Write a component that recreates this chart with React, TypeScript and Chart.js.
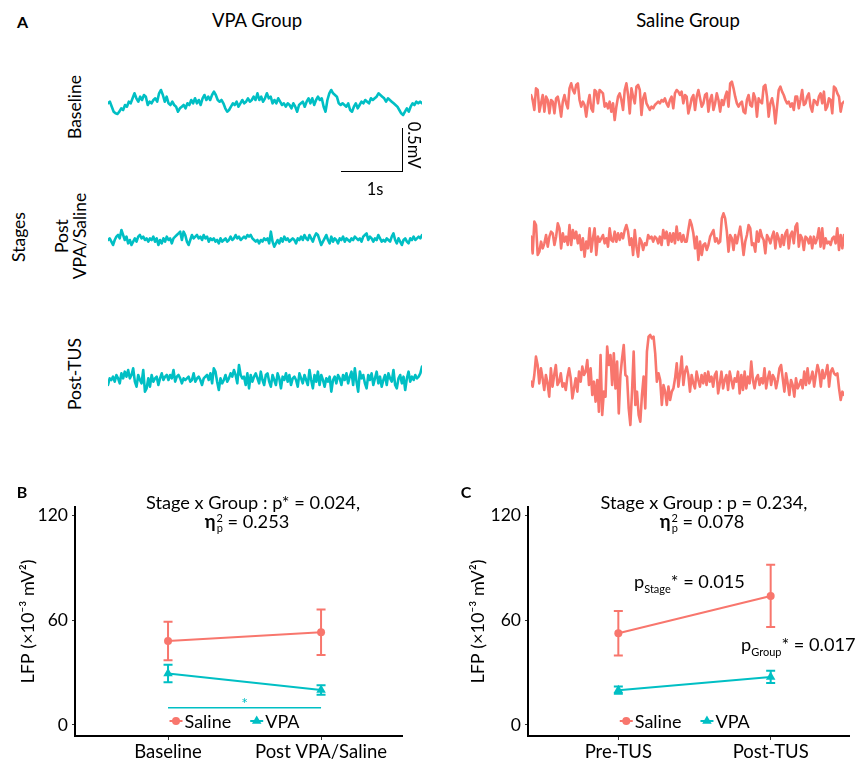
import React, { useEffect, useRef } from "react";
import { Chart, registerables } from "chart.js";

Chart.register(...registerables);

const FONT = "Lato, 'Open Sans', sans-serif";
const SALMON = "#F8766D";
const CYAN = "#00BFC4";

// ---------- Panel A: LFP traces (µV, relative to each trace's baseline) ----------
const VPA_BASELINE = [-16, 4, -56, -116, -136, -144, -116, -76, -96, -36, -56, 4, -16, 44, 104, 44, 4, 64, 24, 84, 64, -36, 4, -16, 24, 44, 4, 104, 144, 84, 4, 64, -16, -36, 4, -36, -56, -116, -76, -56, -36, -76, -16, -36, 24, -16, 44, -16, 24, -36, 44, 84, 24, 64, 24, 84, 124, 84, 24, 4, 24, -16, -76, -116, -96, -56, -16, -36, 4, -56, -16, 24, -16, 4, 44, 4, 24, 64, 24, 104, 24, 64, 4, 44, 104, 44, 64, -16, 24, -16, 44, 4, -36, -16, -56, -16, -36, -76, -16, -56, -116, -36, -16, 4, -56, 4, 44, -16, 44, -36, 24, 64, 24, 44, -56, -116, 24, 104, 144, 104, 84, 64, -16, -36, -16, -36, -56, -16, -96, -116, -56, -16, -76, -36, 4, -16, 24, 4, -16, 44, 24, 44, 64, 104, 84, 64, 44, 4, 44, 24, 4, -16, -36, -56, -96, -136, -156, -116, -76, -116, -56, -16, -36, 4, -16, 4, -16];

const VPA_POST = [-24, -4, -44, -84, -24, 16, 36, -4, 96, 36, -24, 16, -64, -24, -84, -44, -4, -44, 16, 36, -4, 16, -24, -4, -44, -4, -24, 16, -44, -4, -84, -24, -64, -4, -44, 16, -24, -4, -64, -4, 16, 36, 56, 76, -24, 76, 36, -44, -84, -24, 36, -4, 16, 36, -4, 16, -24, 36, -4, 16, -44, -4, -24, -4, -44, -24, -64, -4, -44, -24, -4, -44, -24, 16, -24, -4, 36, -4, 16, -24, -4, 16, -4, 36, 16, 36, -4, -24, -44, -24, -64, -24, -44, -4, -24, -4, -64, 76, -44, -104, -64, -24, -64, -4, -44, 16, -24, -4, -44, -24, -4, -24, -64, -4, -24, 16, -24, 36, -4, -24, 36, -4, -44, 16, 56, 36, -24, -84, -44, -4, 36, -24, -64, 16, -44, -4, -24, -64, -4, -24, 16, -44, -4, -24, -44, -4, -24, 16, -4, -24, -4, -44, 16, 36, 56, -24, 16, -4, -44, -4, -24, 36, -4, -44, -24, -44, -4, -24, -44, 16, 56, -24, -64, -4, -44, -84, -24, -4, -44, -64, -4, -24, 16, -24, -4, 16, -4, 36];

const VPA_POST_TUS = [-84, -4, -24, 16, -44, 36, -4, -64, 56, -4, 76, 16, 96, -4, 36, 116, -44, -104, 36, -24, -64, 96, -164, -124, -4, -104, 36, -44, -4, 16, -84, -4, 56, -24, 16, 36, -24, 36, -4, 96, -44, 16, 36, -4, -64, -4, -24, -4, 16, -44, -24, 56, -44, -4, 16, -24, -84, -4, 16, 36, -24, 56, -64, 116, 76, -44, -144, -4, -64, -24, 36, -44, -4, 56, 16, 96, 36, -64, 156, 36, -4, 16, -84, 56, -124, 36, -44, 16, 56, -4, -64, 76, -24, -84, 36, 56, -44, -104, 36, -24, -84, 56, -4, -124, 16, -24, 56, -44, 36, -84, -4, 16, -24, -104, 56, -4, -64, 36, -24, -84, 96, -24, -124, 36, -44, 76, -84, 36, -24, -104, -4, -44, 16, -164, -24, 16, -64, 36, -4, -84, 36, -24, 56, -64, 16, 76, -84, 116, -44, -164, 76, -4, 36, -64, -124, 36, -24, 56, -84, -4, 76, -64, 16, -104, -24, 36, -84, 56, -4, -44, 96, -84, -124, -4, 36, -64, 16, -144, -4, 76, -44, 16, -24, 36, -4, 16, 56, 136];

const SALINE_BASELINE = [60, 0, -120, 140, 120, -140, -40, 60, -140, 40, 0, -160, 0, -20, -160, 20, 40, -60, -200, -20, 60, -40, -100, 140, 200, 120, 80, 180, 200, 0, -80, -20, -60, -200, -40, 60, -100, -140, 120, 100, -40, 120, 100, 80, -80, -40, -100, -20, -140, -40, -240, -80, 40, 80, 0, -120, 120, 200, 60, -160, 140, 40, -40, 160, 180, 120, -180, 20, 80, -40, -80, -120, -80, -100, -60, -40, -20, -40, 0, -20, 20, -40, -80, 0, 40, -100, 80, 120, 100, 60, 100, -40, 60, 40, -160, -80, 20, 60, -120, 40, 120, 20, -80, -40, 60, 80, -140, 0, 60, -120, -40, 80, 0, -140, 0, -60, 40, 100, -80, 200, 220, 140, 40, -40, -80, -40, -20, -140, -160, 0, 60, -60, -80, 80, 20, -200, 20, -20, -40, 160, 180, 40, -200, -40, 20, -80, -280, -80, 120, 160, 100, 60, 0, -40, -20, -80, -40, -120, 40, 40, -100, 0, 120, -60, -40, 40, 80, -80, -140, 0, -20, -60, 40, 80, -40, 100, -120, -80, 20, 0, -160, 160, 140, 80, 40, -140, -40, -20];

const SALINE_POST = [16, -184, 196, 156, -204, -164, -44, -124, -64, 36, -104, 16, 76, 56, -84, 16, 176, 116, -124, 56, -44, 16, -84, 156, -84, 96, -4, 76, -64, 36, -144, -4, -224, -44, -124, 116, -164, -4, 116, -204, 16, -44, -4, 36, -64, -4, -104, 116, -24, -44, 76, -44, 56, -24, 56, -4, 96, 156, 76, -84, -4, -204, 96, -104, -224, -4, -44, -144, -64, -84, 36, -4, 16, -44, 16, -4, -64, 16, -84, 96, -4, 76, -84, 56, -44, 56, -64, 136, -24, 56, -44, 36, -44, -44, 96, 216, 156, 56, -124, 16, -264, -44, -204, -84, -64, -144, -84, 16, 56, 96, -44, -4, -64, -44, 236, 296, 236, 76, -164, 36, -4, -144, 36, -64, 36, 136, -24, -204, -44, 36, 156, 116, -84, -64, -164, 76, -44, 96, 16, -24, -184, 36, -4, -64, 16, 76, -124, 56, -4, -104, 36, -84, 56, 96, -124, 36, 76, -64, 136, 176, -104, 36, -4, -144, 16, -4, -64, 16, -124, 16, -64, -4, 116, -104, 116, -124, -4, -64, -44, -84, -4, 16, -64, 116, -144, 36, -124, 36];

const SALINE_POST_TUS = [-20, -80, 60, 280, 180, -40, 140, 20, -120, 60, -40, -200, 140, -80, 60, 180, -60, -20, 80, -80, -40, -120, 40, 140, 20, -220, -100, 20, -140, 100, -20, 160, 60, 100, 240, -60, 140, -180, -20, -260, 0, -380, 300, -420, -140, -200, 400, 180, 300, -60, 320, -100, 220, -400, 60, 260, 420, 60, 40, -340, -540, -140, 340, -300, -140, -420, -500, -180, 40, -340, 340, 520, 540, 500, 520, 320, -20, 80, 0, -300, -60, -140, -300, -80, -240, -140, -100, 20, 200, -80, 80, 280, -60, 100, 160, 60, -140, 60, -40, -100, 100, 0, -80, 60, -40, 80, -60, 100, -20, 40, -80, 60, 100, -160, -40, 100, -100, 0, 60, -120, 100, 0, -100, 20, -20, 100, -160, 60, -120, 100, -100, 40, -40, 220, 0, -100, 20, 60, -60, 20, -40, 140, -100, 20, 100, -60, 60, 20, -100, 0, 140, 180, 20, -140, 80, -40, -180, 0, -60, -200, 20, -100, -60, 0, -100, 100, -60, 140, -40, 20, 100, -80, 60, 180, 100, -80, 120, 20, 80, 180, -80, 100, 140, 80, 60, 80, -100, -240, -140, -180];

const TRACE_RANGE_UV = 720; // half-range of each trace's vertical axis

// ---------- Panel B & C: LFP power (×10^-3 mV^2), mean ± SE ----------
const GROUPS = ["Saline", "VPA"];
const STAGES_B = ["Baseline", "Post VPA/Saline"];
const SALINE_B = [48, 53];
const SALINE_B_SE = [11, 13];
const VPA_B = [29.4, 20];
const VPA_B_SE = [5, 2.7];

const STAGES_C = ["Pre-TUS", "Post-TUS"];
const SALINE_C = [52.5, 73.8];
const SALINE_C_SE = [12.7, 17.8];
const VPA_C = [19.9, 27.5];
const VPA_C_SE = [2.1, 3.5];

const Y_TICKS = [0, 60, 120];
const SIG_B = { from: 0, to: 1, y: 9.8, mark: "*" };

function Trace({ data, color, left, top, width, height }: any) {
  const ref = useRef<HTMLCanvasElement>(null);
  useEffect(() => {
    const chart = new Chart(ref.current as HTMLCanvasElement, {
      type: "line",
      data: {
        labels: data.map((_: number, i: number) => i),
        datasets: [
          {
            data,
            borderColor: color,
            borderWidth: 2.6,
            pointRadius: 0,
            tension: 0,
            fill: false,
            borderJoinStyle: "round",
            borderCapStyle: "round",
            clip: 4,
          } as any,
        ],
      },
      options: {
        responsive: false,
        animation: false,
        events: [],
        layout: { padding: 0 },
        plugins: { legend: { display: false }, tooltip: { enabled: false } },
        scales: {
          x: { type: "linear", display: false, min: 0, max: data.length - 1 },
          y: { type: "linear", display: false, min: -TRACE_RANGE_UV, max: TRACE_RANGE_UV },
        },
      },
    });
    return () => chart.destroy();
  }, []);
  return (
    <canvas
      ref={ref}
      width={width}
      height={height}
      style={{ position: "absolute", left, top, width, height }}
    />
  );
}

function StatsChart(props: any) {
  const { left, top, width, height, padRight, axisWidth, stages, saline, salineSe, vpa, vpaSe, xMin, xMax, sig } = props;
  const ref = useRef<HTMLCanvasElement>(null);
  useEffect(() => {
    const seSets = [salineSe, vpaSe];
    const errorBars = {
      id: "errorBars",
      afterDatasetsDraw(chart: any) {
        const { ctx } = chart;
        const xs = chart.scales.x;
        const ys = chart.scales.y;
        chart.data.datasets.forEach((ds: any, di: number) => {
          const se = seSets[di];
          ctx.save();
          ctx.strokeStyle = ds.borderColor;
          ctx.lineWidth = 2;
          ds.data.forEach((p: any, i: number) => {
            const px = xs.getPixelForValue(p.x);
            const t = ys.getPixelForValue(p.y + se[i]);
            const b = ys.getPixelForValue(p.y - se[i]);
            ctx.beginPath();
            ctx.moveTo(px, t);
            ctx.lineTo(px, b);
            ctx.moveTo(px - 4.5, t);
            ctx.lineTo(px + 4.5, t);
            ctx.moveTo(px - 4.5, b);
            ctx.lineTo(px + 4.5, b);
            ctx.stroke();
          });
          ctx.restore();
        });
        if (sig) {
          ctx.save();
          const y = ys.getPixelForValue(sig.y);
          ctx.strokeStyle = CYAN;
          ctx.lineWidth = 1.5;
          ctx.beginPath();
          ctx.moveTo(xs.getPixelForValue(sig.from), y);
          ctx.lineTo(xs.getPixelForValue(sig.to), y);
          ctx.stroke();
          ctx.fillStyle = CYAN;
          ctx.font = `16px ${FONT}`;
          ctx.textAlign = "center";
          ctx.textBaseline = "middle";
          ctx.fillText(sig.mark, xs.getPixelForValue((sig.from + sig.to) / 2), y - 4);
          ctx.restore();
        }
      },
    };
    const legendInside = {
      id: "legendInside",
      afterDraw(chart: any) {
        const { ctx, chartArea } = chart;
        ctx.save();
        ctx.font = `18px ${FONT}`;
        ctx.textBaseline = "middle";
        ctx.textAlign = "left";
        const keyW = 13;
        const gap = 2;
        const spacing = 19;
        const w1 = ctx.measureText(GROUPS[0]).width;
        const w2 = ctx.measureText(GROUPS[1]).width;
        const total = keyW + gap + w1 + spacing + keyW + gap + w2;
        const cx = (chartArea.left + chartArea.right) / 2 - 4;
        const cy = chartArea.bottom - 15;
        let x = cx - total / 2;
        // Saline key
        ctx.strokeStyle = SALMON;
        ctx.fillStyle = SALMON;
        ctx.lineWidth = 2;
        ctx.beginPath();
        ctx.moveTo(x, cy);
        ctx.lineTo(x + keyW, cy);
        ctx.stroke();
        ctx.beginPath();
        ctx.arc(x + keyW / 2, cy, 4, 0, Math.PI * 2);
        ctx.fill();
        x += keyW + gap;
        ctx.fillStyle = "#000";
        ctx.fillText(GROUPS[0], x, cy + 1);
        x += w1 + spacing;
        // VPA key
        ctx.strokeStyle = CYAN;
        ctx.fillStyle = CYAN;
        ctx.beginPath();
        ctx.moveTo(x, cy);
        ctx.lineTo(x + keyW, cy);
        ctx.stroke();
        const r = 5.5;
        const kx = x + keyW / 2;
        ctx.beginPath();
        ctx.moveTo(kx, cy - r);
        ctx.lineTo(kx + r * 0.866, cy + r * 0.5);
        ctx.lineTo(kx - r * 0.866, cy + r * 0.5);
        ctx.closePath();
        ctx.fill();
        x += keyW + gap;
        ctx.fillStyle = "#000";
        ctx.fillText(GROUPS[1], x, cy + 1);
        ctx.restore();
      },
    };
    const chart = new Chart(ref.current as HTMLCanvasElement, {
      type: "line",
      data: {
        datasets: [
          {
            label: GROUPS[0],
            data: saline.map((v: number, i: number) => ({ x: i, y: v })),
            borderColor: SALMON,
            backgroundColor: SALMON,
            borderWidth: 2,
            pointStyle: "circle",
            pointRadius: 4,
            pointBorderWidth: 0,
          },
          {
            label: GROUPS[1],
            data: vpa.map((v: number, i: number) => ({ x: i, y: v })),
            borderColor: CYAN,
            backgroundColor: CYAN,
            borderWidth: 2,
            pointStyle: "triangle",
            pointRadius: 5.5,
            pointBorderWidth: 0,
          },
        ],
      },
      options: {
        responsive: false,
        animation: false,
        events: [],
        layout: { padding: { top: 27, right: padRight, left: 0, bottom: 0 } },
        plugins: { legend: { display: false }, tooltip: { enabled: false } },
        scales: {
          x: {
            type: "linear",
            min: xMin,
            max: xMax,
            afterBuildTicks: (s: any) => {
              s.ticks = stages.map((_: string, i: number) => ({ value: i }));
            },
            afterFit: (s: any) => {
              s.height = 25;
            },
            ticks: {
              callback: (_v: any, i: number) => stages[i],
              font: { family: FONT, size: 18.5 },
              color: "#000",
              padding: 1,
              maxRotation: 0,
              autoSkip: false,
            },
            grid: { display: true, drawOnChartArea: false, drawTicks: true, tickLength: 4, tickColor: "#333", tickWidth: 1 },
            border: { display: true, color: "#000", width: 2 },
          },
          y: {
            type: "linear",
            min: -6.3,
            max: 124.7,
            afterBuildTicks: (s: any) => {
              s.ticks = Y_TICKS.map((v) => ({ value: v }));
            },
            afterFit: (s: any) => {
              s.width = axisWidth;
            },
            ticks: {
              font: { family: FONT, size: 17.5 },
              color: "#000",
              padding: 4,
            },
            grid: { display: true, drawOnChartArea: false, drawTicks: true, tickLength: 3, tickColor: "#333", tickWidth: 1 },
            border: { display: true, color: "#000", width: 2 },
            title: {
              display: true,
              text: "LFP (×10⁻³ mV²)",
              font: { family: FONT, size: 18 },
              color: "#000",
              padding: { top: 17, bottom: 0 },
            },
          },
        },
      },
      plugins: [errorBars, legendInside],
    });
    return () => chart.destroy();
  }, []);
  return (
    <canvas
      ref={ref}
      width={width}
      height={height}
      style={{ position: "absolute", left, top, width, height }}
    />
  );
}

function Txt({ x, y, size = 16, bold = false, rotate = 0, color = "#000", children }: any) {
  return (
    <div
      style={{
        position: "absolute",
        left: x,
        top: y,
        transform: `translate(-50%, -50%) rotate(${rotate}deg)`,
        fontSize: size,
        fontWeight: bold ? 700 : 400,
        whiteSpace: "nowrap",
        lineHeight: 1.15,
        color,
        textAlign: "center",
      }}
    >
      {children}
    </div>
  );
}

function Eta({ value }: any) {
  return (
    <span>
      <b>η</b>
      <span
        style={{
          display: "inline-flex",
          flexDirection: "column",
          fontSize: 11,
          lineHeight: "10px",
          verticalAlign: "middle",
          marginLeft: 1,
        }}
      >
        <span>2</span>
        <span>p</span>
      </span>
      {" = " + value}
    </span>
  );
}

export default function App() {
  return (
    <div
      style={{
        position: "absolute",
        left: 0,
        top: 0,
        width: 855,
        height: 761,
        background: "#fff",
        fontFamily: FONT,
        color: "#000",
        overflow: "hidden",
      }}
    >
      {/* Panel A traces */}
      <Trace data={VPA_BASELINE} color={CYAN} left={108} top={42} width={314} height={120} />
      <Trace data={SALINE_BASELINE} color={SALMON} left={531} top={40} width={313} height={120} />
      <Trace data={VPA_POST} color={CYAN} left={108} top={178} width={314} height={120} />
      <Trace data={SALINE_POST} color={SALMON} left={531} top={178} width={313} height={120} />
      <Trace data={VPA_POST_TUS} color={CYAN} left={108} top={318} width={314} height={120} />
      <Trace data={SALINE_POST_TUS} color={SALMON} left={531} top={320} width={313} height={120} />

      {/* scale bar */}
      <div style={{ position: "absolute", left: 401.5, top: 128, width: 1.4, height: 43.5, background: "#000" }} />
      <div style={{ position: "absolute", left: 341, top: 170.5, width: 62, height: 1.4, background: "#000" }} />
      <Txt x={414} y={145} size={16.5} rotate={90}>0.5mV</Txt>
      <Txt x={375} y={189} size={16.5}>1s</Txt>

      {/* Panel A labels */}
      <Txt x={22.5} y={22} size={16} bold>A</Txt>
      <Txt x={257} y={21} size={18.5}>VPA Group</Txt>
      <Txt x={688} y={21} size={18.5}>Saline Group</Txt>
      <Txt x={75} y={107} size={17.5} rotate={-90}>Baseline</Txt>
      <div
        style={{
          position: "absolute",
          left: 71,
          top: 236,
          transform: "translate(-50%, -50%) rotate(-90deg)",
          fontSize: 17.5,
          lineHeight: "18px",
          textAlign: "center",
          whiteSpace: "nowrap",
        }}
      >
        Post
        <br />
        VPA/Saline
      </div>
      <Txt x={75} y={374} size={17.5} rotate={-90}>Post-TUS</Txt>
      <Txt x={19} y={237} size={17.5} rotate={-90}>Stages</Txt>

      {/* Panel B */}
      <StatsChart
        left={0}
        top={480}
        width={420}
        height={281}
        padRight={18}
        axisWidth={75}
        stages={STAGES_B}
        saline={SALINE_B}
        salineSe={SALINE_B_SE}
        vpa={VPA_B}
        vpaSe={VPA_B_SE}
        xMin={-0.608}
        xMax={1.529}
        sig={SIG_B}
      />
      <Txt x={22} y={492} size={16} bold>B</Txt>
      <Txt x={253} y={502} size={18.2}>Stage x Group : p* = 0.024,</Txt>
      <Txt x={247} y={522} size={18.2}><Eta value="0.253" /></Txt>

      {/* Panel C */}
      <StatsChart
        left={450}
        top={480}
        width={405}
        height={281}
        padRight={2}
        axisWidth={78}
        stages={STAGES_C}
        saline={SALINE_C}
        salineSe={SALINE_C_SE}
        vpa={VPA_C}
        vpaSe={VPA_C_SE}
        xMin={-0.593}
        xMax={1.5175}
      />
      <Txt x={466} y={492} size={16} bold>C</Txt>
      <Txt x={704} y={502} size={18.2}>Stage x Group : p = 0.234,</Txt>
      <Txt x={702} y={522} size={18.2}><Eta value="0.078" /></Txt>
      <div style={{ position: "absolute", left: 634, top: 571, fontSize: 18.2, whiteSpace: "nowrap", lineHeight: "20px" }}>
        p<sub style={{ fontSize: 11 }}>Stage</sub>* = 0.015
      </div>
      <div style={{ position: "absolute", left: 741, top: 634, fontSize: 18.2, whiteSpace: "nowrap", lineHeight: "20px" }}>
        p<sub style={{ fontSize: 11 }}>Group</sub>* = 0.017
      </div>
    </div>
  );
}
